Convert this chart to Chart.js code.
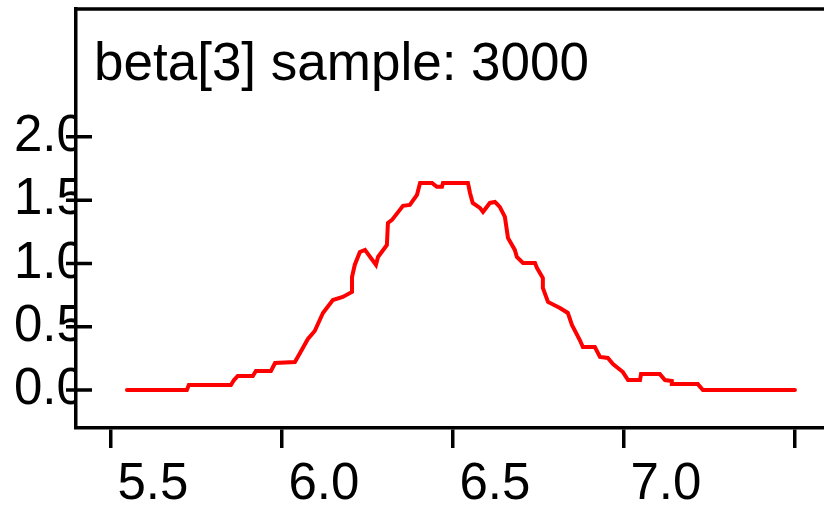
<!DOCTYPE html>
<html>
<head>
<meta charset="utf-8">
<script src="https://cdn.jsdelivr.net/npm/chart.js@4.4.1/dist/chart.umd.min.js"></script>
<style>
  html, body { margin: 0; padding: 0; background: #fff; }
  #wrap { width: 824px; height: 508px; position: relative; }
</style>
</head>
<body>
<div id="wrap"><canvas id="density"></canvas></div>
<script>
// density of beta[3]
var titleText = "beta[3] sample: 3000";
var xs = [5.547, 5.722, 5.728, 5.851, 5.860, 5.871, 5.915, 5.924, 5.968, 5.980,
  6.038, 6.053, 6.076, 6.096, 6.120, 6.149, 6.178, 6.205, 6.205, 6.213,
  6.228, 6.243, 6.275, 6.281, 6.307, 6.310, 6.322, 6.354, 6.374, 6.395,
  6.404, 6.439, 6.453, 6.468, 6.471, 6.544, 6.550, 6.558, 6.579, 6.588,
  6.608, 6.623, 6.637, 6.652, 6.661, 6.681, 6.687, 6.705, 6.740, 6.746,
  6.763, 6.763, 6.778, 6.813, 6.836, 6.848, 6.871, 6.880, 6.915, 6.930,
  6.953, 6.968, 6.997, 7.012, 7.047, 7.050, 7.105, 7.120, 7.140, 7.140,
  7.216, 7.231, 7.500];
var ys = [0, 0, 0.04, 0.04, 0.079, 0.111, 0.111, 0.15, 0.15, 0.213,
  0.221, 0.292, 0.403, 0.466, 0.609, 0.711, 0.735, 0.775, 0.893, 0.988,
  1.091, 1.107, 0.988, 1.051, 1.146, 1.32, 1.344, 1.455, 1.462, 1.542,
  1.636, 1.636, 1.605, 1.605, 1.636, 1.636, 1.557, 1.478, 1.439, 1.407,
  1.478, 1.486, 1.447, 1.368, 1.202, 1.107, 1.051, 1.004, 1.004, 0.964,
  0.885, 0.806, 0.696, 0.648, 0.609, 0.514, 0.395, 0.34, 0.34, 0.261,
  0.253, 0.206, 0.142, 0.079, 0.079, 0.126, 0.126, 0.079, 0.071, 0.047,
  0.047, 0, 0];
var xTicks = [5.5, 6.0, 6.5, 7.0, 7.5];
var yTicks = [0.0, 0.5, 1.0, 1.5, 2.0];

var FONT = '"Liberation Sans", Arial, sans-serif';

var points = xs.map(function(x, i) { return { x: x, y: ys[i] }; });

// top border, y tick marks crossing the axis, and the title inside the box
var extras = {
  id: 'extras',
  afterDraw: function(chart) {
    var ctx = chart.ctx, area = chart.chartArea, y = chart.scales.y;
    ctx.save();
    ctx.strokeStyle = '#000';
    ctx.lineWidth = 3.5;
    ctx.beginPath();
    ctx.moveTo(area.left - 1.75, area.top);
    ctx.lineTo(area.right, area.top);
    y.ticks.forEach(function(t) {
      var py = y.getPixelForValue(t.value);
      ctx.moveTo(area.left - 10, py);
      ctx.lineTo(area.left + 16, py);
    });
    ctx.stroke();
    ctx.fillStyle = '#000';
    ctx.font = '53px ' + FONT;
    ctx.textBaseline = 'alphabetic';
    ctx.textAlign = 'left';
    ctx.fillText(titleText, area.left + 18, area.top + 71);
    ctx.restore();
  }
};

new Chart(document.getElementById('density').getContext('2d'), {
  type: 'line',
  data: {
    datasets: [{
      data: points,
      borderColor: '#ff0000',
      borderWidth: 4,
      borderCapStyle: 'round',
      pointRadius: 0,
      tension: 0,
      fill: false
    }]
  },
  options: {
    responsive: true,
    maintainAspectRatio: false,
    animation: false,
    layout: { padding: { left: 14, top: 9, right: 0, bottom: 0 } },
    plugins: { legend: { display: false }, tooltip: { enabled: false } },
    scales: {
      x: {
        type: 'linear',
        min: 5.398,
        max: 7.585,
        afterBuildTicks: function(scale) {
          scale.ticks = xTicks.map(function(v) { return { value: v }; });
        },
        afterFit: function(scale) {
          scale.height = 80;
          scale.paddingLeft = 0;
          scale.paddingRight = 0;
        },
        grid: { drawOnChartArea: false, drawTicks: true, tickLength: 20, color: '#000', lineWidth: 3.5 },
        border: { display: true, color: '#000', width: 3.5 },
        ticks: {
          autoSkip: false,
          maxRotation: 0,
          minRotation: 0,
          labelOffset: 42,
          padding: 6,
          color: '#000',
          font: { family: FONT, size: 51 },
          callback: function(v) { return v > 7.2 ? '' : v.toFixed(1); }
        }
      },
      y: {
        type: 'linear',
        min: -0.3,
        max: 3.01,
        afterBuildTicks: function(scale) {
          scale.ticks = yTicks.map(function(v) { return { value: v }; });
        },
        afterFit: function(scale) {
          scale.width = 62;
          scale.paddingTop = 0;
          scale.paddingBottom = 0;
        },
        grid: { display: false },
        border: { display: true, color: '#000', width: 3.5 },
        ticks: {
          autoSkip: false,
          crossAlign: 'far',
          color: '#000',
          font: { family: FONT, size: 51 },
          callback: function(v) { return v.toFixed(1); }
        }
      }
    }
  },
  plugins: [extras]
});
</script>
</body>
</html>
